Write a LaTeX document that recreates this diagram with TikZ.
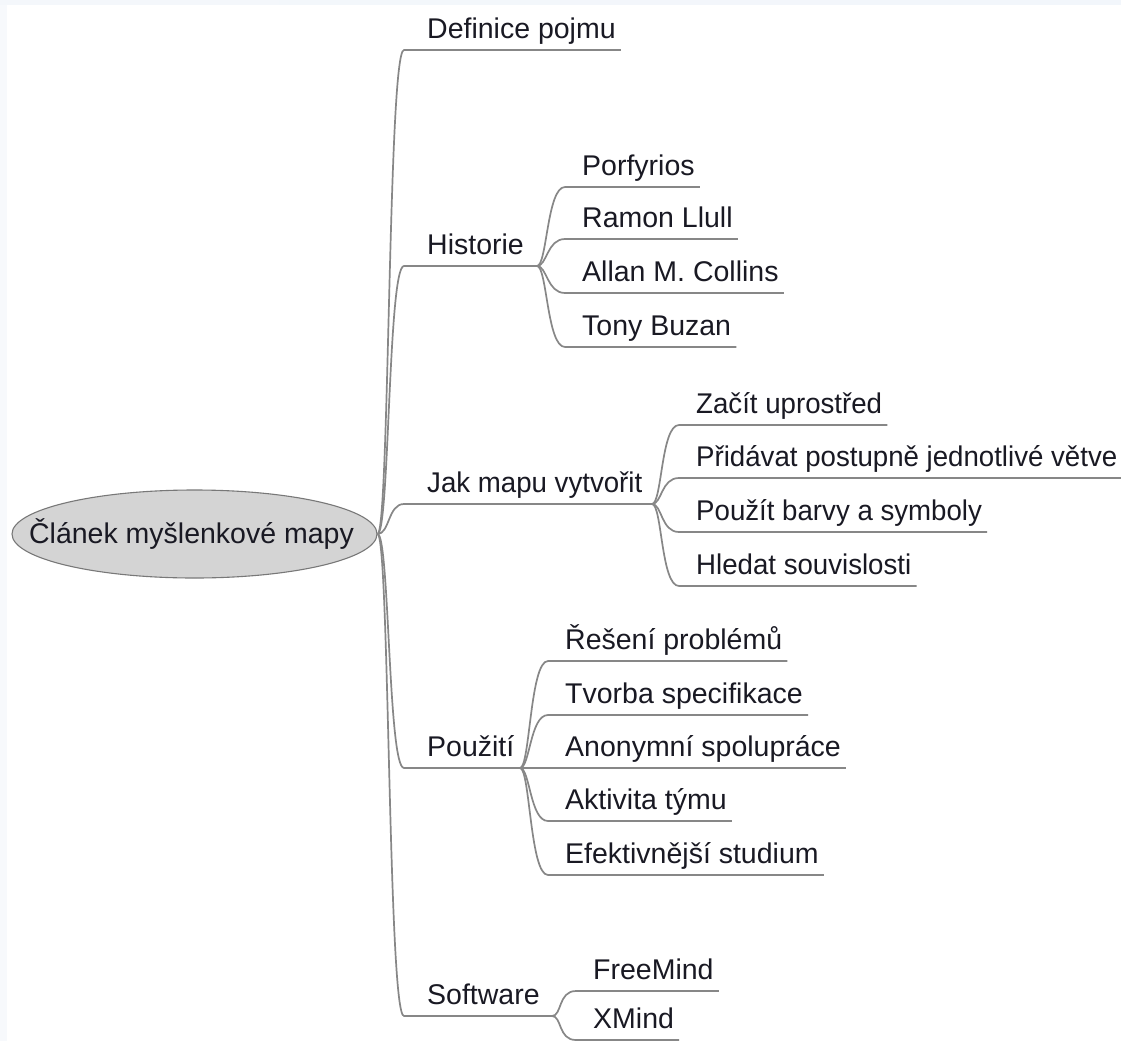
\documentclass[tikz,border=0pt]{standalone}
\usepackage{fontspec}
\setmainfont{Liberation Sans}
\newfontfamily\narrowfont[FakeStretch=0.97]{Liberation Sans}
\usetikzlibrary{shapes.geometric}
\definecolor{linegray}{RGB}{135,135,135}
\definecolor{txt}{RGB}{25,25,35}
\definecolor{rootfill}{RGB}{212,212,212}
\definecolor{rootline}{RGB}{120,120,120}
\definecolor{bandL}{RGB}{244,247,251}
\definecolor{bandM}{RGB}{221,232,245}
\definecolor{bandR}{RGB}{242,246,251}
\definecolor{edgeL}{RGB}{247,249,252}
\begin{document}
\begin{tikzpicture}[x=1pt,y=-1pt,
  conn/.style={draw=linegray, line width=1.7pt},
  topic/.style={anchor=south west, inner xsep=5pt, inner ysep=0pt, text depth=11pt, text height=21pt,
                font=\fontsize{28.5}{34}\selectfont, text=txt},
  ntopic/.style={topic, font=\narrowfont\fontsize{28.5}{34}\selectfont}]
\useasboundingbox (0,0) rectangle (1121,1041);
\fill[white] (0,0) rectangle (1121,1041);
% faint window band
\shade[left color=bandL, middle color=bandM, right color=bandR] (0,0) rectangle (1121,5);
\fill[edgeL] (0,5) rectangle (7,1041);

% root
\node[ellipse, draw=rootline, line width=1.1pt, fill=rootfill, minimum width=365pt, minimum height=88pt,
      inner sep=0pt, font=\fontsize{28.5}{34}\selectfont, text=txt] (root) at (194.5,534)
      {\makebox[0pt]{\hspace*{-6pt}Článek myšlenkové mapy}};

% level 1
\node[topic]  (def)  at (422,50)   {Definice pojmu};
\node[topic]  (hist) at (422,266)  {Historie};
\node[ntopic] (jak)  at (422,504)  {Jak mapu vytvořit};
\node[topic]  (pouz) at (422,768)  {Použití};
\node[topic]  (soft) at (422,1016) {Software};
\coordinate (histJ) at (537,266);
\coordinate (jakJ)  at (652,504);
\coordinate (pouzJ) at (520,768);
\coordinate (softJ) at (552,1016);

% level 2
\node[topic] (h1) at (577,187) {Porfyrios};
\node[topic] (h2) at (577,239) {Ramon Llull};
\node[topic] (h3) at (577,293) {Allan M. Collins};
\node[topic] (h4) at (577,347) {Tony Buzan};

\node[ntopic] (j1) at (691,425) {Začít uprostřed};
\node[ntopic] (j2) at (691,478) {Přidávat postupně jednotlivé větve};
\node[ntopic] (j3) at (691,532) {Použít barvy a symboly};
\node[ntopic] (j4) at (691,586) {Hledat souvislosti};

\node[topic] (p1) at (560,661) {Řešení problémů};
\node[topic] (p2) at (560,715) {Tvorba specifikace};
\node[topic] (p3) at (560,768) {Anonymní spolupráce};
\node[topic] (p4) at (560,821) {Aktivita týmu};
\node[topic] (p5) at (560,875) {Efektivnější studium};

\node[topic] (s1) at (588,991)  {FreeMind};
\node[topic] (s2) at (588,1040) {XMind};

% trunk connectors
\draw[conn] (root.east) .. controls +(12,0) and +(-16,0) .. ([xshift=-18pt]def.south west) -- (def.south east);
\draw[conn] (root.east) .. controls +(12,0) and +(-16,0) .. ([xshift=-18pt]hist.south west) -- (histJ);
\draw[conn] (root.east) .. controls +(12,0) and +(-16,0) .. ([xshift=-18pt]jak.south west) -- (jakJ);
\draw[conn] (root.east) .. controls +(12,0) and +(-16,0) .. ([xshift=-18pt]pouz.south west) -- (pouzJ);
\draw[conn] (root.east) .. controls +(12,0) and +(-16,0) .. ([xshift=-18pt]soft.south west) -- (softJ);

% Historie
\foreach \c in {h1,h2,h3,h4}
  \draw[conn] (histJ) .. controls +(10,0) and +(-18,0) .. ([xshift=-12pt]\c.south west) -- (\c.south east);
% Jak
\foreach \c in {j1,j2,j3,j4}
  \draw[conn] (jakJ) .. controls +(10,0) and +(-18,0) .. ([xshift=-12pt]\c.south west) -- (\c.south east);
% Pouziti
\foreach \c in {p1,p2,p3,p4,p5}
  \draw[conn] (pouzJ) .. controls +(10,0) and +(-18,0) .. ([xshift=-12pt]\c.south west) -- (\c.south east);
% Software
\foreach \c in {s1,s2}
  \draw[conn] (softJ) .. controls +(10,0) and +(-18,0) .. ([xshift=-12pt]\c.south west) -- (\c.south east);
\end{tikzpicture}
\end{document}
